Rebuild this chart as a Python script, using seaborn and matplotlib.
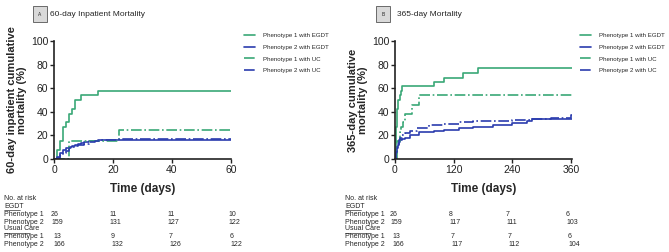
import numpy as np
import pandas as pd
import seaborn as sns
import matplotlib.pyplot as plt
from matplotlib.lines import Line2D

sns.set_style("ticks")
plt.rcParams['font.family'] = ['Liberation Sans', 'DejaVu Sans']

GREEN = "#3aa877"
BLUE = "#2b3cae"

# panel A: 60-day inpatient mortality (%)
a_t_p1e = [0, 1, 2, 3, 4, 5, 6, 7, 9, 15, 60]
a_y_p1e = [0, 8, 15, 27, 31, 38, 42, 50, 54, 58, 58]
a_t_p2e = [0, 1, 2, 3, 4, 5, 6, 7, 8, 9, 10, 11, 12, 13, 15, 17, 27, 60]
a_y_p2e = [0, 2, 5, 8, 9, 10, 11, 12, 13, 13.5, 14, 14.5, 15, 15.5, 15.8, 16, 16, 16]
a_t_p1u = [0, 5, 22, 60]
a_y_p1u = [0, 15.4, 24.5, 24.5]
a_t_p2u = [0, 1, 2, 3, 4, 5, 6, 7, 8, 10, 12, 14, 16, 18, 22, 60]
a_y_p2u = [0, 1, 3, 5, 7, 9, 10, 11, 12, 13, 14, 15, 16, 16.5, 17, 17]

# panel B: 365-day mortality (%)
b_t_p1e = [0, 1, 2, 3, 4, 5, 7, 10, 12, 15, 80, 100, 140, 170, 365]
b_y_p1e = [0, 8, 15, 27, 35, 42, 50, 54, 58, 62, 65, 69, 73, 77, 77]
b_t_p2e = [0, 2, 4, 6, 8, 10, 15, 20, 30, 50, 80, 100, 130, 160, 200, 240, 270, 280, 320, 365]
b_y_p2e = [0, 5, 9, 12, 14, 16, 17, 18, 20, 23, 24, 25, 26, 27.5, 29, 30.5, 32, 34, 34, 34.5]
b_t_p1u = [0, 5, 10, 13, 17, 20, 35, 50, 365]
b_y_p1u = [0, 15, 23, 27, 31, 38, 46, 54, 54]
b_t_p2u = [0, 2, 4, 6, 8, 10, 15, 20, 30, 45, 70, 100, 130, 160, 200, 240, 280, 320, 360, 365]
b_y_p2u = [0, 6, 10, 13, 16, 18, 20, 22, 24, 26, 29, 30, 31, 32, 32.5, 33, 34, 35, 37.5, 37.5]

series_names = ["Phenotype 1 with EGDT", "Phenotype 2 with EGDT",
                "Phenotype 1 with UC", "Phenotype 2 with UC"]

# numbers at risk
risk_a = {"EGDT": [[26, 11, 11, 10], [159, 131, 127, 122]],
          "Usual Care": [[13, 9, 7, 6], [166, 132, 126, 122]]}
risk_b = {"EGDT": [[26, 8, 7, 6], [159, 117, 111, 103]],
          "Usual Care": [[13, 7, 7, 6], [166, 117, 112, 104]]}

W, H = 669, 252
fig = plt.figure(figsize=(W / 100, H / 100), dpi=100)


def px(x, y):
    return x / W, 1 - y / H


def panel(left, curves, xmax, xticks, ylabel, letter, title, title_x, legend_x, risk, risk_x, label_x):
    ax = fig.add_axes([left / W, 1 - 159 / H, 177 / W, 118 / H])
    styles = [(GREEN, "-"), (BLUE, "-"), (GREEN, "-."), (BLUE, "-.")]
    for (t, y), (c, ls) in zip(curves, styles):
        sns.lineplot(x=t, y=y, ax=ax, color=c, linestyle=ls, drawstyle="steps-post",
                     linewidth=1.2, estimator=None)
    ax.set_xlim(0, xmax)
    ax.set_ylim(0, 100)
    ax.set_xticks(xticks)
    ax.set_yticks([0, 20, 40, 60, 80, 100])
    ax.tick_params(labelsize=7.5, length=3, width=1, pad=1, colors="#222222")
    for s in ["left", "bottom"]:
        ax.spines[s].set_linewidth(1.2)
        ax.spines[s].set_color("#222222")
    sns.despine(ax=ax)
    ax.set_ylabel(ylabel, fontsize=8, fontweight="bold", labelpad=3, linespacing=1.0)
    ax.set_xlabel("Time (days)", fontsize=8.5, fontweight="bold", labelpad=6)

    handles = [Line2D([], [], color=c, linestyle=ls, linewidth=1.2) for c, ls in styles]
    fig.legend(handles, series_names, loc="upper left", bbox_to_anchor=px(legend_x, 28),
               frameon=False, fontsize=4.4, handlelength=1.8, labelspacing=1.05,
               handletextpad=1.3, borderpad=0.3)

    fig.text(*px(letter[0], 14), letter[1], fontsize=3.5, ha="center", va="center",
             bbox=dict(boxstyle="square,pad=1.2", fc="#d9d9d9", ec="#555555", lw=0.6))
    fig.text(*px(title_x, 14), title, fontsize=6, va="center")

    fs = 5
    fig.text(*px(label_x, 199), "No. at risk", fontsize=fs, va="center")
    rows_y = {"EGDT": (206, 214, 222), "Usual Care": (229, 237, 245)}
    for grp, (gy, y1, y2) in rows_y.items():
        fig.text(*px(label_x, gy), grp, fontsize=fs, va="center")
        tw = 16 if grp == "EGDT" else 26
        fig.add_artist(Line2D([label_x / W, (label_x + tw) / W], [1 - (gy + 3.5) / H] * 2,
                              color="black", lw=0.4))
        for ry, name, vals in zip((y1, y2), ("Phenotype 1", "Phenotype 2"), risk[grp]):
            fig.text(*px(label_x, ry), name, fontsize=fs, va="center")
            for xx, v in zip(risk_x, vals):
                fig.text(*px(xx + (2 if grp == "Usual Care" else 0), ry), str(v), fontsize=fs, va="center")
    return ax


panel(54, [(a_t_p1e, a_y_p1e), (a_t_p2e, a_y_p2e), (a_t_p1u, a_y_p1u), (a_t_p2u, a_y_p2u)],
      60, [0, 20, 40, 60], "60-day inpatient cumulative\nmortality (%)",
      (40, "A"), "60-day Inpatient Mortality", 50, 239, risk_a, [51, 109, 167, 228], 4)
panel(395, [(b_t_p1e, b_y_p1e), (b_t_p2e, b_y_p2e), (b_t_p1u, b_y_p1u), (b_t_p2u, b_y_p2u)],
      362, [0, 120, 240, 360], "365-day cumulative\nmortality (%)",
      (383, "B"), "365-day Mortality", 397, 575, risk_b, [390, 449, 506, 566], 345)

fig.savefig("out.png", dpi=100)
